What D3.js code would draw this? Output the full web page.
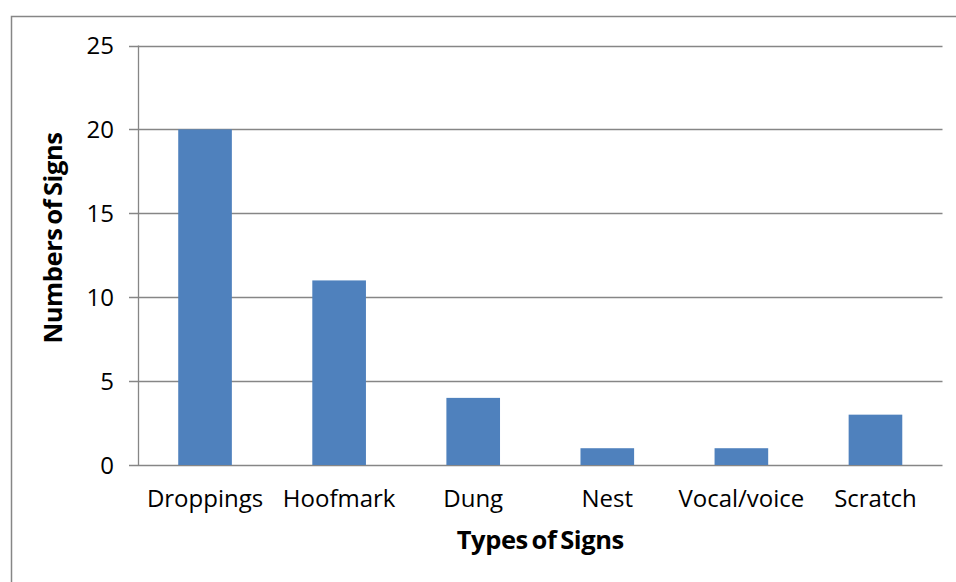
<!DOCTYPE html>
<html>
<head>
<meta charset="utf-8">
<script src="https://cdn.jsdelivr.net/npm/d3@7"></script>
<style>
    body { margin: 0; background: #fff; }
    svg { display: block; }
    text { font-family: "Open Sans", sans-serif; fill: #000; }
</style>
</head>
<body>
<svg width="956" height="582"></svg>
<script>
const categories = ["Droppings", "Hoofmark", "Dung", "Nest", "Vocal/voice", "Scratch"];
const counts = [20, 11, 4, 1, 1, 3];
const yTicks = [0, 5, 10, 15, 20, 25];

const svg = d3.select("svg");
const margin = {left: 138, top: 45.5, right: 13.5, bottom: 117};
const width = +svg.attr("width"), height = +svg.attr("height");

// chart frame, runs off the right and bottom edges
svg.append("rect")
    .attr("x", 11.5).attr("y", 16.5)
    .attr("width", 960).attr("height", 600)
    .attr("fill", "none")
    .attr("stroke", "#868686")
    .attr("stroke-width", 1.5);

const x = d3.scaleBand()
    .domain(categories)
    .range([margin.left, width - margin.right])
    .paddingInner(0.6)
    .paddingOuter(0.3);

const y = d3.scaleLinear()
    .domain([0, 25])
    .range([height - margin.bottom, margin.top]);

// gridlines with small left ticks
svg.append("g")
    .selectAll("line")
    .data(yTicks)
    .enter().append("line")
    .attr("x1", margin.left - 9)
    .attr("x2", width - margin.right)
    .attr("y1", d => Math.round(y(d)) + 0.5)
    .attr("y2", d => Math.round(y(d)) + 0.5)
    .attr("stroke", "#868686")
    .attr("stroke-width", 1.3);

svg.append("line")
    .attr("x1", margin.left + 0.5).attr("x2", margin.left + 0.5)
    .attr("y1", y(25)).attr("y2", y(0))
    .attr("stroke", "#868686")
    .attr("stroke-width", 1.3);

svg.append("g")
    .selectAll("rect")
    .data(counts)
    .enter().append("rect")
    .attr("x", (d, i) => x(categories[i]))
    .attr("width", x.bandwidth())
    .attr("y", d => y(d))
    .attr("height", d => y(0) - y(d))
    .attr("fill", "#4F81BD");

svg.append("g")
    .selectAll("text")
    .data(yTicks)
    .enter().append("text")
    .attr("x", 114)
    .attr("y", d => y(d))
    .attr("dy", "0.36em")
    .attr("text-anchor", "end")
    .style("font-size", "24px")
    .text(d => d);

svg.append("g")
    .selectAll("text")
    .data(categories)
    .enter().append("text")
    .attr("x", d => x(d) + x.bandwidth() / 2)
    .attr("y", 507)
    .attr("text-anchor", "middle")
    .style("font-size", "24px")
    .text(d => d);

svg.append("text")
    .attr("x", (margin.left + width - margin.right) / 2)
    .attr("y", 549)
    .attr("text-anchor", "middle")
    .style("font-size", "25.5px")
    .style("font-weight", "bold")
    .style("letter-spacing", "-0.4px")
    .style("word-spacing", "-2.5px")
    .text("Types of Signs");

svg.append("text")
    .attr("transform", "translate(62,238) rotate(-90)")
    .attr("text-anchor", "middle")
    .style("font-size", "25.5px")
    .style("font-weight", "bold")
    .style("letter-spacing", "-0.4px")
    .style("word-spacing", "-2.5px")
    .text("Numbers of Signs");
</script>
</body>
</html>
